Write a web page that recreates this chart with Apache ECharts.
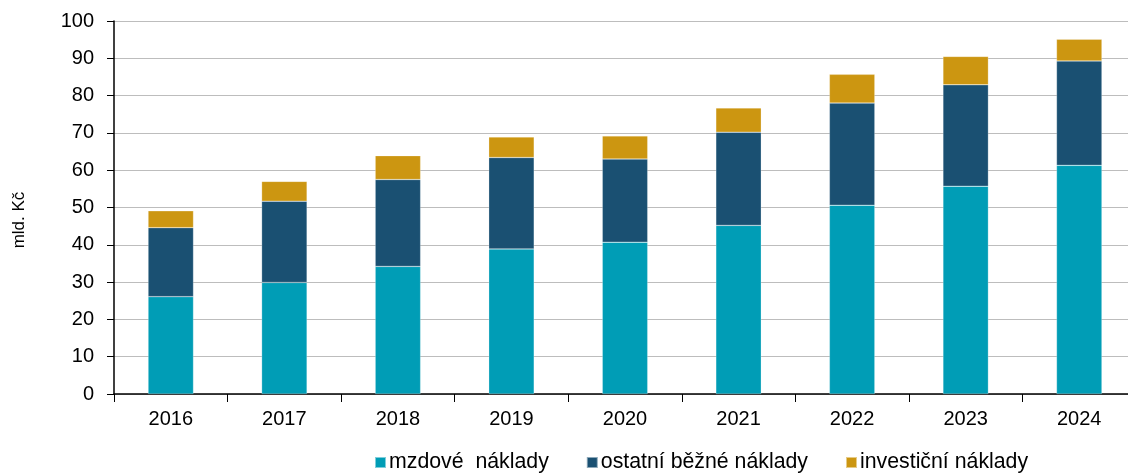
<!DOCTYPE html>
<html>
<head>
<meta charset="utf-8">
<script src="https://cdn.jsdelivr.net/npm/echarts@6/dist/echarts.min.js"></script>
<style>
  html, body { margin: 0; padding: 0; background: #fff; }
  #chart { width: 1128px; height: 474px; }
</style>
</head>
<body>
<div id="chart"></div>
<script>
// roky
var years = ['2016', '2017', '2018', '2019', '2020', '2021', '2022', '2023', '2024'];
// mld. Kč
var mzdove = [26.1, 29.9, 34.2, 38.9, 40.7, 45.2, 50.6, 55.7, 61.3];
var ostatni = [18.5, 21.8, 23.3, 24.5, 22.3, 25.0, 27.4, 27.2, 28.0];
var investicni = [4.5, 5.3, 6.4, 5.5, 6.2, 6.5, 7.7, 7.6, 5.8];

var seriesNames = ['mzdové  náklady', 'ostatní běžné náklady', 'investiční náklady'];
var colors = ['#009db6', '#1a5072', '#cc9611'];
var font = 'Liberation Sans, Arial, sans-serif';

function barSeries(name, data) {
    return {
        name: name,
        type: 'bar',
        stack: 'total',
        barWidth: '40%',
        data: data,
        itemStyle: { borderColor: 'rgba(255,255,255,0.5)', borderWidth: 0.5 }
    };
}

var option = {
    animation: false,
    color: colors,
    textStyle: { fontFamily: font },
    // osa x pokračuje až za pravý okraj obrázku
    grid: { left: 114, width: 1022, top: 21, bottom: 80, outerBoundsMode: 'none' },
    legend: {
        top: 452,
        left: 374,
        padding: 0,
        itemWidth: 11,
        itemHeight: 11,
        itemGap: 37,
        icon: 'rect',
        textStyle: { fontSize: 21.3, color: '#000', fontFamily: font, padding: [0, 0, 0, -2] },
        data: seriesNames
    },
    graphic: [{
        type: 'text',
        x: 19,
        y: 220,
        rotation: Math.PI / 2,
        style: {
            text: 'mld. Kč',
            fontSize: 17,
            fontFamily: font,
            fill: '#000',
            align: 'center',
            verticalAlign: 'middle'
        }
    }],
    xAxis: {
        type: 'category',
        data: years,
        axisLine: { lineStyle: { color: '#000', width: 1.5 } },
        axisTick: { show: true, length: 8, lineStyle: { color: '#000' } },
        axisLabel: { fontSize: 20, color: '#000', margin: 15 }
    },
    yAxis: {
        type: 'value',
        min: 0,
        max: 100,
        interval: 10,
        axisLine: { show: true, lineStyle: { color: '#000', width: 1.5 } },
        axisTick: { show: true, length: 7, lineStyle: { color: '#000' } },
        axisLabel: { fontSize: 20, color: '#000', margin: 20 },
        splitLine: { lineStyle: { color: '#bdbdbd', width: 1.2 } }
    },
    series: [
        barSeries(seriesNames[0], mzdove),
        barSeries(seriesNames[1], ostatni),
        barSeries(seriesNames[2], investicni)
    ]
};

var chart = echarts.init(document.getElementById('chart'));
chart.setOption(option);
</script>
</body>
</html>
